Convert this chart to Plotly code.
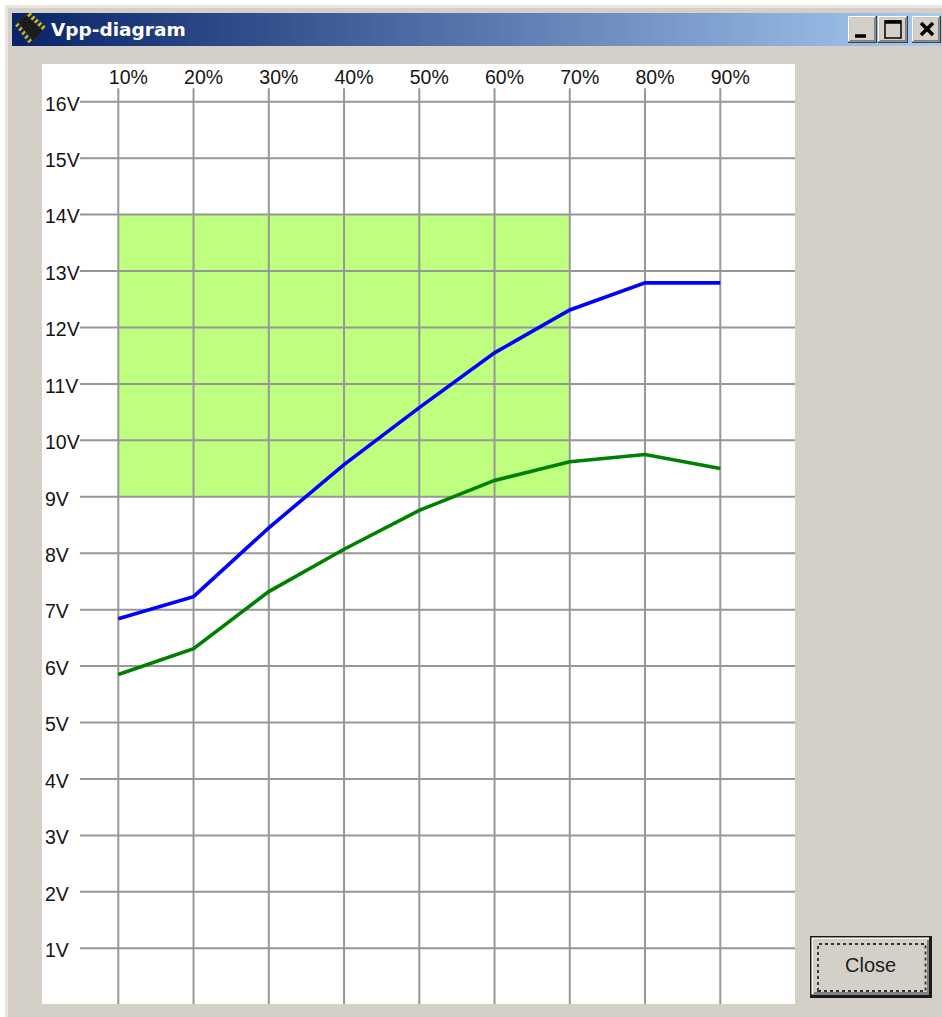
import plotly.graph_objects as go

# ---- data ----
pct_values = [10, 20, 30, 40, 50, 60, 70, 80, 90]
pct_labels = ["10%", "20%", "30%", "40%", "50%", "60%", "70%", "80%", "90%"]
volt_values = list(range(1, 17))
volt_labels = [f"{v}V" for v in volt_values]
blue_series = [6.84, 7.23, 8.45, 9.57, 10.58, 11.55, 12.31, 12.79, 12.79]
green_series = [5.85, 6.31, 7.32, 8.07, 8.76, 9.29, 9.62, 9.75, 9.50]
zone_x = [10, 70]
zone_y = [9, 14]
window_title = "Vpp-diagram"
button_label = "Close"

W, H = 942, 1017
L, R, T, B = 42, 795, 64, 1004
FACE = "#d4d0c8"
FONT = "Liberation Sans"
TEXT = "#151515"


def px(x):
    return (x - L) / (R - L)


def py(y):
    return (B - y) / (B - T)


shapes = []


def rect(x0, y0, x1, y1, fill, line=None, lw=1, dash=None):
    shapes.append(dict(type="rect", xref="paper", yref="paper", layer="below",
                       x0=px(x0), x1=px(x1), y0=py(y1), y1=py(y0),
                       fillcolor=fill,
                       line=dict(color=line or fill, width=lw if line else 0, dash=dash)))


def seg(x0, y0, x1, y1, color, lw=1.5, cap=False):
    shapes.append(dict(type="line", xref="paper", yref="paper", layer="above",
                       x0=px(x0), x1=px(x1), y0=py(y0), y1=py(y1),
                       line=dict(color=color, width=lw)))


# window body
rect(0, 0, W, H, "#ffffff")
rect(5, 5, W, H, "#e8e5df")
rect(8, 8, W, H, FACE)

# title bar gradient
c0, c1 = (10, 36, 106), (166, 202, 240)
x_start, x_end, steps = 12, W, 80
for i in range(steps):
    t = i / (steps - 1)
    col = "rgb(%d,%d,%d)" % tuple(round(a + (b - a) * t) for a, b in zip(c0, c1))
    rect(x_start + (x_end - x_start) * i / steps, 13,
         x_start + (x_end - x_start) * (i + 1) / steps + 1, 46, col)

# client (plot) area
rect(L, T, R, B, "#ffffff")

# caption buttons
for bx0, bx1 in ((848, 877), (878, 908), (912, 941)):
    rect(bx0, 16, bx1, 43, "#404040")
    rect(bx0, 16, bx1 - 1.5, 41.5, "#ffffff")
    rect(bx0 + 1.5, 17.5, bx1 - 1.5, 41.5, "#808080")
    rect(bx0 + 1.5, 17.5, bx1 - 3, 40, FACE)
seg(855, 36, 866, 36, "#000000", 3.5)
rect(885, 21, 901, 38, FACE, "#000000", 1.5)
seg(885, 22, 901, 22, "#000000", 3.5)
seg(921, 23, 933, 35, "#000000", 3.5)
seg(933, 23, 921, 35, "#000000", 3.5)

# chip icon: yellow pins, then dark body
for k in range(5):
    t = (k + 0.5) / 5
    ax, ay = 26 + 17 * t, 15 + 16 * t
    seg(ax, ay, ax + 3.5, ay - 3.5, "#d0c000", 2.4)
    bx, by = 18 + 15 * t, 21 + 20 * t
    seg(bx, by, bx - 3.5, by + 3.5, "#d0c000", 2.4)
shapes.append(dict(type="path", xref="paper", yref="paper", layer="above",
                   path=f"M {px(18)} {py(22)} L {px(26)} {py(15)} L {px(43)} {py(31)} L {px(33)} {py(41)} Z",
                   fillcolor="#1c1c1c", line=dict(color="#303030", width=1)))

# close button
rect(810, 936, 932, 998, "#1a1a1a")
rect(811.5, 937.5, 929, 994.5, "#ffffff")
rect(813.5, 939.5, 929, 994.5, "#808080")
rect(813.5, 939.5, 927, 992, FACE)
rect(818, 944, 925.5, 991, FACE, "#303030", 1.8, "dot")

# acceptable-Vpp zone
zone = dict(type="rect", xref="x", yref="y", layer="below",
            x0=zone_x[0], x1=zone_x[1], y0=zone_y[0], y1=zone_y[1],
            fillcolor="#bfff80", line=dict(width=0))

# gridlines built from tick values, with the short stubs beside the labels
GRID_TOP = 16.24
GRID_LEFT = 4.9
gx, gy = [], []
for v in pct_values:
    gx += [v, v, None]
    gy += [0, GRID_TOP, None]
for v in volt_values:
    gx += [GRID_LEFT, 100, None]
    gy += [v, v, None]

fig = go.Figure()
fig.add_trace(go.Scatter(x=gx, y=gy, mode="lines", hoverinfo="skip",
                         line=dict(color="#979797", width=2)))
fig.add_trace(go.Scatter(x=pct_values, y=blue_series, mode="lines",
                         line=dict(color="#0000ff", width=3.6)))
fig.add_trace(go.Scatter(x=pct_values, y=green_series, mode="lines",
                         line=dict(color="#008000", width=3.6)))

annotations = [
    dict(text=f"<b>{window_title}</b>", xref="paper", yref="paper",
         x=px(49), y=py(30), xanchor="left", yanchor="middle", showarrow=False,
         font=dict(family="DejaVu Sans", size=18.5, color="#ffffff")),
    dict(text=button_label, xref="paper", yref="paper",
         x=px(871), y=py(965), xanchor="center", yanchor="middle", showarrow=False,
         font=dict(family=FONT, size=20, color="#202020")),
]

tick_font = dict(family=FONT, size=19.5, color=TEXT)

fig.update_layout(
    width=W, height=H, showlegend=False,
    margin=dict(l=L, r=W - R, t=T, b=H - B, pad=0),
    paper_bgcolor=FACE, plot_bgcolor="#ffffff",
    shapes=shapes + [zone], annotations=annotations,
    font=dict(family=FONT, size=19.5, color=TEXT),
    xaxis=dict(range=[-0.14, 99.93], side="top", tickmode="array", tickvals=pct_values,
               ticktext=pct_labels, ticklabelposition="inside", showgrid=False,
               ticklabelshift=10, ticklabelstandoff=3, tickfont=tick_font,
               zeroline=False, showline=False, ticks=""),
    yaxis=dict(range=[0.013, 16.668], tickmode="array", tickvals=volt_values,
               ticktext=volt_labels, ticklabelposition="inside", showgrid=False,
               ticklabelshift=2, tickfont=tick_font,
               zeroline=False, showline=False, ticks=""),
)

fig.write_html("out.html", config={"displayModeBar": False},
               post_script="document.body.style.margin='0';document.body.style.overflow='hidden';")
